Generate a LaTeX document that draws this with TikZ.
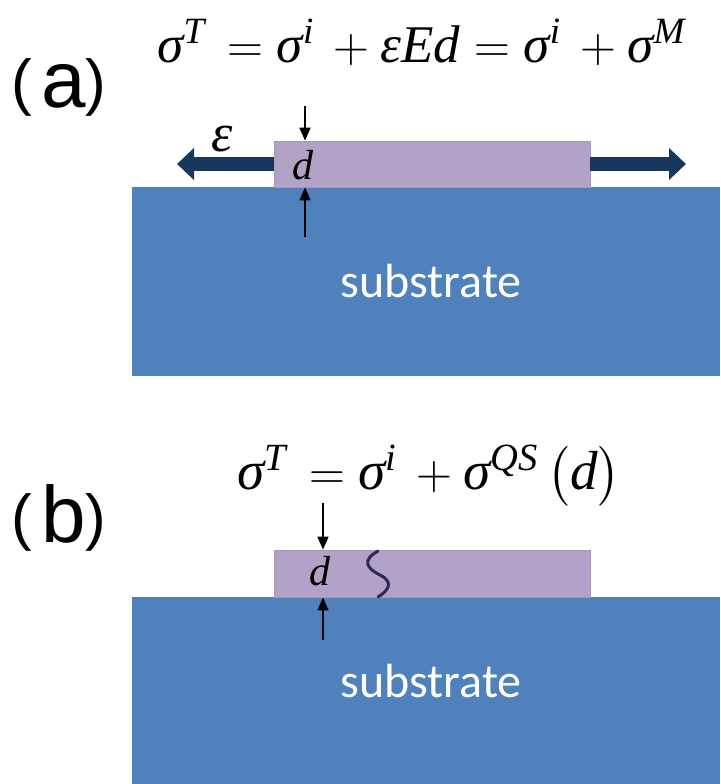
\documentclass[tikz,border=0pt]{standalone}
\usepackage{amsmath}
\usepackage{fontspec}
\newfontfamily\calibrifont{Carlito}
\newfontfamily\arialfont{Liberation Sans}
\newfontfamily\timesfont{Liberation Serif}
\usetikzlibrary{arrows.meta, positioning}
\definecolor{substrateblue}{HTML}{4F81BD}
\definecolor{filmlilac}{HTML}{B3A2C7}
\definecolor{strainnavy}{HTML}{17375E}
\definecolor{wavepurple}{HTML}{2E2A5C}
\tikzset{
  substratebox/.style={
    draw=none, fill=substrateblue, inner sep=0pt,
    minimum width=294pt, minimum height=94.5pt
  },
  filmbox/.style={
    fill=filmlilac, draw=filmlilac!75!gray, line width=0.4pt,
    inner sep=0pt, minimum width=158pt, minimum height=23pt
  },
  substratelabel/.style={
    text=white, font=\calibrifont\fontsize{24}{28}\selectfont,
    inner sep=0pt, anchor=base
  },
  eqlabel/.style={
    font=\fontsize{26.5}{30}\selectfont, inner sep=0pt, anchor=base west
  },
  panellabel/.style={
    font=\arialfont, inner sep=0pt, anchor=base west
  },
  symlabel/.style={
    font=\timesfont\itshape\fontsize{21}{24}\selectfont, inner sep=0pt
  },
  thicknessarrow/.style={
    -{Triangle[length=6.5pt,width=5.5pt]}, line width=0.8pt, black
  },
  strainarrow/.style={
    -{Triangle[length=8.5pt,width=15.5pt]}, line width=7pt, strainnavy
  },
}
\newcommand{\ti}[1]{\text{\timesfont\itshape #1}}
\newcommand{\panelmark}[1]{%
  \raisebox{2pt}{\fontsize{31}{31}\selectfont(}\hspace{4.5pt}%
  {\fontsize{40}{40}\selectfont #1}%
  \raisebox{2pt}{\fontsize{31}{31}\selectfont)}}

\begin{document}
\begin{tikzpicture}[x=0.5pt, y=-0.5pt]
  \useasboundingbox (0,0) rectangle (720,784);

  % ---- (a): film under applied strain ----
  \node[panellabel] (labA) at (11,107) {\panelmark{a}};
  \node[eqlabel] (eqA) at (157,62)
    {$\ti{σ}^{\ti{T}}\,=\ti{σ}^{\ti{i}}\,+\ti{εEd}=\ti{σ}^{\ti{i}}\,+\ti{σ}^{\ti{M}}$};

  \node[substratebox] (subA) at (426,281.5) {};
  \node[substratelabel] (subAtext) at (431,297) {substrate};
  \node[filmbox] (filmA) at (432,164) {};

  % strain arrows
  \coordinate (epsL) at (177,164);
  \coordinate (epsR) at (686,164);
  \draw[strainarrow] (filmA.west) -- (epsL);
  \draw[strainarrow] (filmA.east) -- (epsR);
  \node[symlabel, font=\timesfont\itshape\fontsize{27}{30}\selectfont]
    (epsA) at (222,139) {ε};

  % thickness
  \node[symlabel] (dA) at (303,165) {d};
  \coordinate (dTopA) at (305,106);
  \coordinate (dBotA) at (305,237);
  \draw[thicknessarrow] (dTopA) -- (dTopA |- filmA.north);
  \draw[thicknessarrow] (dBotA) -- (dBotA |- filmA.south);

  % ---- (b): thickness-dependent stress ----
  \node[panellabel] (labB) at (11,542) {\panelmark{b}};
  \node[eqlabel, font=\fontsize{27.5}{32}\selectfont] (eqB) at (237,489)
    {$\ti{σ}^{\ti{T}}\,=\ti{σ}^{\ti{i}}\,+\ti{σ}^{\ti{QS}}\,\bigl(\ti{d}\bigr)$};

  \node[substratebox, minimum height=93.5pt] (subB) at (426,690.5) {};
  \node[substratelabel] (subBtext) at (431,697) {substrate};
  \node[filmbox, minimum height=23.5pt] (filmB) at (432,573.5) {};

  % wavy interface mark
  \draw[wavepurple, line width=1.5pt, line cap=round]
    (378,551) .. controls (362,560) and (366,568) .. (380,575)
    .. controls (396,583) and (386,592) .. (378,597);

  % thickness
  \node[symlabel] (dB) at (320,571) {d};
  \coordinate (dTopB) at (323,503);
  \coordinate (dBotB) at (323,640);
  \draw[thicknessarrow] (dTopB) -- (dTopB |- filmB.north);
  \draw[thicknessarrow] (dBotB) -- (dBotB |- filmB.south);
\end{tikzpicture}
\end{document}
